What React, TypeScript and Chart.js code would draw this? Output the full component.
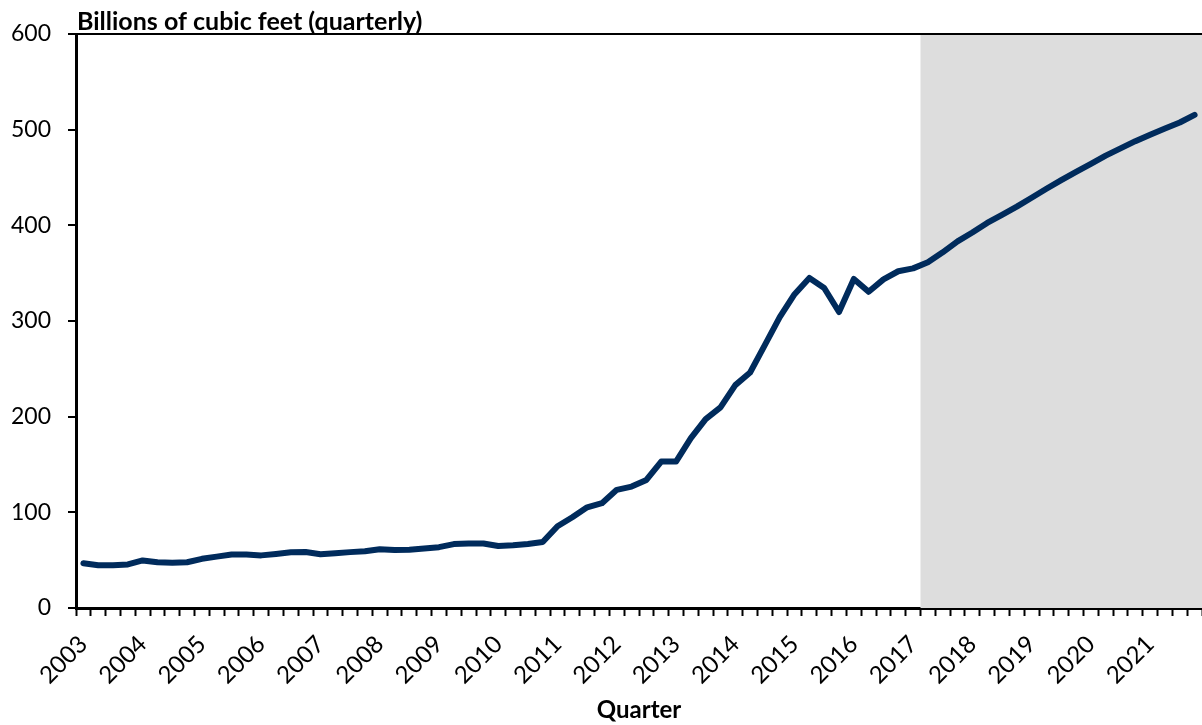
import React, { useEffect, useRef } from "react";
import { Chart, registerables } from "chart.js";

Chart.register(...registerables);

// Calendar years covered by the series, four quarters each
const years = [
  2003, 2004, 2005, 2006, 2007, 2008, 2009, 2010, 2011, 2012,
  2013, 2014, 2015, 2016, 2017, 2018, 2019, 2020, 2021,
];
const quarters = ["Q1", "Q2", "Q3", "Q4"];

// Quarterly volume, billions of cubic feet (2003 Q1 – 2021 Q4)
const production = [
  46.8, 44.7, 44.6, 45.5, 49.7, 47.8, 47.4, 47.8,
  51.4, 53.7, 56.0, 55.8, 55.0, 56.5, 58.2, 58.6,
  56.2, 57.3, 58.4, 59.4, 61.5, 60.6, 61.0, 62.2,
  63.6, 66.8, 67.5, 67.5, 64.8, 65.6, 67.0, 69.0,
  85.5, 94.9, 105.2, 109.6, 123.5, 126.9, 133.9, 153.1,
  153.1, 177.5, 197.4, 209.8, 233.0, 246.2, 275.0, 304.0,
  328.0, 345.0, 334.5, 309.4, 344.0, 330.5, 343.5, 352.0,
  355.0, 361.5, 371.8, 383.3, 392.5, 402.5, 411.0, 419.5,
  428.8, 438.2, 447.2, 455.8, 464.2, 472.8, 480.5, 488.0,
  494.8, 501.2, 507.5, 515.5,
];

// First projected quarter; everything from here on sits in the shaded band
const forecastStart = "2017 Q2";

const yTicks = [0, 100, 200, 300, 400, 500, 600];

const titleText = "Billions of cubic feet (quarterly)";
const axisTitle = "Quarter";

const quarterLabels: string[] = [];
years.forEach((y) => quarters.forEach((q) => quarterLabels.push(`${y} ${q}`)));

const FONT = "Lato, 'Open Sans', sans-serif";

const forecastBand = {
  id: "forecastBand",
  beforeDatasetsDraw(chart: any) {
    const { ctx, chartArea, scales } = chart;
    const x = scales.x;
    const idx = quarterLabels.indexOf(forecastStart);
    if (idx < 0) return;
    const half = (x.getPixelForValue(1) - x.getPixelForValue(0)) / 2;
    const left = x.getPixelForValue(idx) - half;
    ctx.save();
    ctx.fillStyle = "#DDDDDD";
    ctx.fillRect(left, chartArea.top + 1, chartArea.right - left, chartArea.bottom - chartArea.top - 1);
    ctx.restore();
  },
};

const unitTitle = {
  id: "unitTitle",
  afterDraw(chart: any) {
    const { ctx, chartArea } = chart;
    ctx.save();
    ctx.font = `bold 25px ${FONT}`;
    ctx.fillStyle = "#000";
    ctx.textAlign = "left";
    ctx.textBaseline = "alphabetic";
    ctx.fillText(titleText, chartArea.left + 1, chartArea.top - 4);
    ctx.restore();
  },
};

export default function App() {
  const canvasRef = useRef<HTMLCanvasElement | null>(null);

  useEffect(() => {
    const canvas = canvasRef.current;
    if (!canvas) return;
    const chart = new Chart(canvas, {
      type: "line",
      data: {
        labels: quarterLabels,
        datasets: [
          {
            data: production,
            borderColor: "#002B5C",
            borderWidth: 6,
            borderCapStyle: "round",
            borderJoinStyle: "round",
            pointRadius: 0,
            pointHoverRadius: 0,
            tension: 0,
            fill: false,
          },
        ],
      },
      options: {
        responsive: false,
        animation: false,
        events: [],
        layout: { padding: { top: 34, right: 0, left: 0, bottom: 0 } },
        plugins: {
          legend: { display: false },
          tooltip: { enabled: false },
          title: { display: false },
        },
        scales: {
          x: {
            type: "category",
            offset: true,
            border: { display: true, color: "#000", width: 3 },
            grid: {
              offset: true,
              drawOnChartArea: false,
              drawTicks: true,
              tickLength: 8,
              tickWidth: 2,
              tickColor: "#000",
            },
            ticks: {
              autoSkip: false,
              maxRotation: 45,
              minRotation: 45,
              padding: 14,
              color: "#000",
              font: { family: FONT, size: 24 },
              callback: (_v: any, i: number) => (i % 4 === 0 ? quarterLabels[i].slice(0, 4) : ""),
            },
            title: {
              display: true,
              text: axisTitle,
              color: "#000",
              font: { family: FONT, size: 24, weight: "bold" },
              padding: { top: 0, bottom: 0 },
            },
            afterFit: (scale: any) => {
              scale.height = 117;
              scale.paddingRight = 0;
              scale.paddingLeft = 0;
            },
          },
          y: {
            min: 0,
            max: 600,
            border: { display: true, color: "#000", width: 3 },
            afterBuildTicks: (scale: any) => {
              scale.ticks = yTicks.map((v) => ({ value: v }));
            },
            grid: {
              drawOnChartArea: true,
              drawTicks: true,
              tickLength: 8,
              tickWidth: 2,
              tickColor: "#000",
              lineWidth: 2,
              color: (c: any) => (c.tick && c.tick.value === 600 ? "#000" : "rgba(0,0,0,0)"),
            },
            ticks: {
              padding: 17,
              color: "#000",
              font: { family: FONT, size: 23 },
            },
            afterFit: (scale: any) => {
              scale.width = 76;
            },
          },
        },
      },
      plugins: [forecastBand, unitTitle],
    });
    return () => chart.destroy();
  }, []);

  return (
    <div style={{ position: "absolute", left: 0, top: 0, width: 1202, height: 725, background: "#fff" }}>
      <canvas ref={canvasRef} width={1202} height={725} style={{ display: "block" }} />
    </div>
  );
}
